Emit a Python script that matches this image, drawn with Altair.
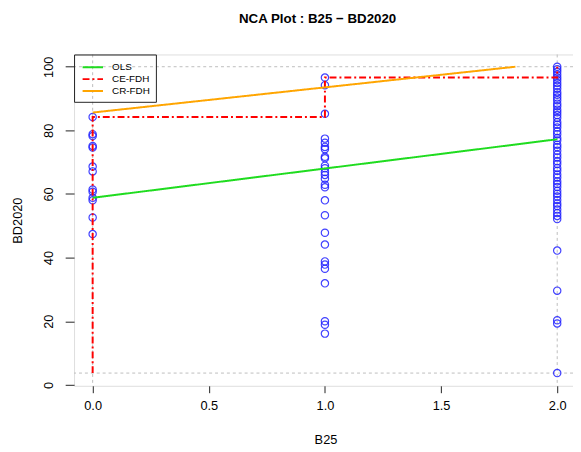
import altair as alt
import pandas as pd

# ---- data ----
b25_groups = [0, 1, 2]
bd_at_0 = [84.2, 78.8, 78.2, 75.1, 74.6, 68.6, 67.1, 61.4, 60.7, 58.8, 58.0, 52.6, 47.4]
bd_at_1 = [96.6, 94.2, 85.2, 77.4, 76.1, 74.8, 74.1, 71.7, 71.2, 68.9, 68.1, 66.9, 66.0,
           64.8, 62.9, 62.1, 58.0, 53.3, 47.8, 44.1, 38.8, 37.8, 36.5, 31.9, 20.0, 18.9, 16.1]
bd_at_2 = [100.0, 99.2, 98.4, 97.5, 96.6, 95.8, 94.9, 94.0, 93.1, 92.0, 91.2, 90.3, 89.5,
           88.4, 87.6, 86.5, 85.7, 84.8, 83.9, 82.6, 81.8, 80.9, 79.7, 78.8, 77.6, 76.8,
           75.5, 74.7, 73.6, 72.4, 71.5, 70.3, 69.4, 68.2, 67.3, 66.1, 65.2, 64.0, 63.1,
           62.2, 61.0, 60.1, 59.2, 58.1, 57.0, 56.2, 55.1, 54.0, 53.1, 52.1, 42.2, 29.6,
           20.3, 19.3, 3.7]

ols_x = [0.0, 2.0]
ols_y = [58.8, 77.2]
ce_x = [0.0, 0.0, 1.0, 1.0, 2.0, 2.0]
ce_y = [3.7, 84.2, 84.2, 96.6, 96.6, 100.0]
cr_x = [0.0, 1.82]
cr_y = [85.6, 100.0]

scope_x = [0.0, 2.0]
scope_y = [3.7, 100.0]

series_names = ["OLS", "CE-FDH", "CR-FDH"]
series_colors = ["#1fdc1f", "#ff0000", "#ffa500"]
series_dash = [[1, 0], [7, 3, 2, 3], [1, 0]]

# ---- tables ----
pts = pd.DataFrame({
    "B25": [b25_groups[0]] * len(bd_at_0) + [b25_groups[1]] * len(bd_at_1) + [b25_groups[2]] * len(bd_at_2),
    "BD2020": bd_at_0 + bd_at_1 + bd_at_2,
})
rows = []
for name, xs_, ys_ in [("OLS", ols_x, ols_y), ("CE-FDH", ce_x, ce_y), ("CR-FDH", cr_x, cr_y)]:
    for i, (a, b) in enumerate(zip(xs_, ys_)):
        rows.append({"series": name, "x": a, "y": b, "ord": i})
lines = pd.DataFrame(rows)
vref = pd.DataFrame({"x": scope_x})
href = pd.DataFrame({"y": scope_y})

FONT = "Liberation Sans"
xs = alt.Scale(domain=[-0.08, 2.068], nice=False, zero=False)
ys = alt.Scale(domain=[-0.3, 103.85], nice=False, zero=False)

xaxis = alt.Axis(values=[0, 0.5, 1, 1.5, 2], format=".1f", title="B25", grid=False,
                 domain=False, tickSize=7, tickColor="#222", labelPadding=7,
                 labelFontSize=13, titleFontSize=13, labelFont=FONT, titleFont=FONT,
                 labelColor="#000", titleColor="#000", titleFontWeight="normal",
                 titleX=255, titleY=59, titleBaseline="alphabetic", titleAlign="center")
yaxis = alt.Axis(values=[0, 20, 40, 60, 80, 100], title="BD2020", grid=False,
                 domain=False, tickSize=9, tickColor="#222", labelPadding=13,
                 labelAngle=270, labelAlign="center", labelBaseline="alphabetic",
                 labelFontSize=13, titleFontSize=13, labelFont=FONT, titleFont=FONT,
                 labelColor="#000", titleColor="#000", titleFontWeight="normal",
                 titleAngle=270, titleX=-53, titleY=168, titleBaseline="alphabetic",
                 titleAlign="center")

vlines = alt.Chart(vref).mark_rule(color="#bdbdbd", strokeDash=[3, 3], strokeWidth=1).encode(
    x=alt.X("x:Q", scale=xs, axis=xaxis))
hlines = alt.Chart(href).mark_rule(color="#bdbdbd", strokeDash=[3, 3], strokeWidth=1).encode(
    y=alt.Y("y:Q", scale=ys, axis=yaxis))

points = alt.Chart(pts).mark_point(shape="circle", filled=False, color="#2020ff",
                                   size=55, strokeWidth=1.2, opacity=0.85).encode(
    x=alt.X("B25:Q", scale=xs, axis=xaxis),
    y=alt.Y("BD2020:Q", scale=ys, axis=yaxis),
)

legend = alt.Legend(title=None, orient="none", legendX=0, legendY=0,
                    symbolType="M-1.8,0H1.8", symbolSize=132, symbolStrokeWidth=2,
                    symbolOffset=6, labelFontSize=10, labelFont=FONT, labelColor="#000",
                    padding=6, rowPadding=0, labelOffset=12.5,
                    strokeColor="#222")

lns = alt.Chart(lines).mark_line(strokeWidth=2, clip=True).encode(
    x=alt.X("x:Q", scale=xs, axis=xaxis),
    y=alt.Y("y:Q", scale=ys, axis=yaxis),
    color=alt.Color("series:N", scale=alt.Scale(domain=series_names, range=series_colors), legend=legend),
    strokeDash=alt.StrokeDash("series:N", scale=alt.Scale(domain=series_names, range=series_dash), legend=legend),
    detail="series:N",
    order="ord:Q",
)

chart = alt.layer(vlines, hlines, points, lns).properties(
    width=506, height=336,
    autosize=alt.AutoSizeParams(type="none"),
    padding={"left": 67, "top": 44, "right": 0, "bottom": 64},
    title=alt.TitleParams("NCA Plot : B25 − BD2020", font=FONT, fontSize=13.5,
                          fontWeight="bold", color="#000", anchor="middle",
                          baseline="alphabetic", frame="group", offset=18, dx=-6),
).configure_view(stroke="#222", strokeWidth=1).configure(background="white")

chart.save("out.html", embed_options={"renderer": "svg", "actions": False})
